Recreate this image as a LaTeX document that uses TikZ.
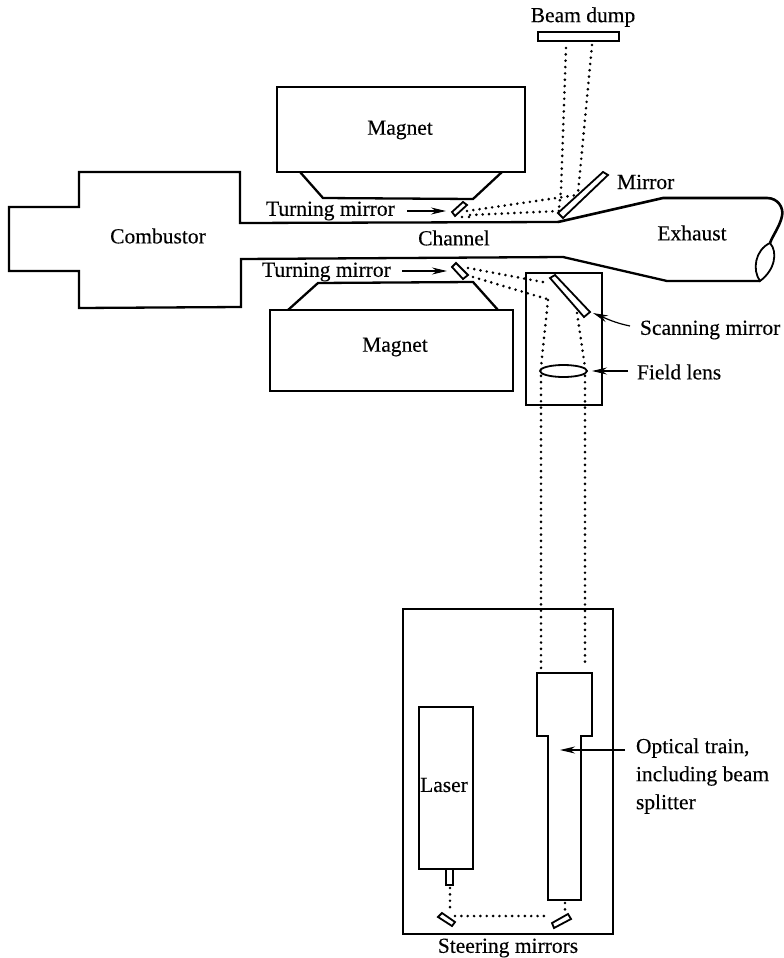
\documentclass[tikz,border=0pt]{standalone}
\usepackage{fontspec}
\setmainfont[FakeBold=0.25]{Liberation Serif}
\usetikzlibrary{arrows.meta}
\tikzset{
  solidline/.style={draw=black,line width=2.3pt,line join=miter},
  heavyline/.style={draw=black,line width=2.7pt,line join=miter},
  thinpart/.style={draw=black,line width=1.8pt,fill=white},
  beam/.style={draw=black,line width=2.9pt,line cap=round,dash pattern=on 0pt off 6.35pt},
  pointer/.style={draw=black,line width=1.2pt,-{Stealth[length=15pt,width=7pt]}},
  label/.style={font=\fontsize{21.5}{28}\selectfont,text=black,inner sep=0pt,outer sep=0pt},
}
\begin{document}
\begin{tikzpicture}[x=1pt,y=-1pt]
\useasboundingbox (0,0) rectangle (784,958);
% labels
\node[label] (dumpL) at (583,17) {Beam dump};
\node[label] (mag1L) at (400,130) {Magnet};
\node[label] (mag2L) at (395,347) {Magnet};
\node[label] (combL) at (158,236) {Combustor};
\node[label] (chanL) at (454,238) {Channel};
\node[label] (exhL) at (692,233) {Exhaust};
\node[label,anchor=west] (mirL) at (617,182) {Mirror};
\node[label,anchor=west] (tm1L) at (266,211) {Turning mirror};
\node[label,anchor=west] (tm2L) at (262,272) {Turning mirror};
\node[label,anchor=west] (scanL) at (640,330) {Scanning mirror};
\node[label,anchor=west] (lensL) at (637,372) {Field lens};
\node[label,anchor=west,align=left] (optL) at (636,776) {Optical train,\\including beam\\splitter};
\node[label] (laserL) at (444,785) {Laser};
\node[label] (steerL) at (508,948) {Steering mirrors};
% combustor, channel, exhaust
\draw[solidline] (558,222) -- (240,223) -- (240,172) -- (79,172) -- (79,207) -- (9,207) -- (9,271) -- (79,271) -- (79,308) -- (241,307) -- (241,259) -- (563,257) -- (667,281) -- (760,281);
\draw[solidline,line width=2.6pt] (558,222) -- (663,198) -- (767,198) .. controls (778,198) and (784,208) .. (782,216) .. controls (780,226) and (773,235) .. (770,243);
\draw[solidline,line width=1.8pt] (770,243) .. controls (778,252) and (775,270) .. (760,281) .. controls (752,270) and (755,250) .. (770,243);
% magnets
\draw[solidline] (277,87) rectangle (525,172);
\draw[solidline] (300,172) -- (323,198) -- (473,199) -- (502,172);
\draw[solidline] (270,310) rectangle (513,391);
\draw[solidline] (288,310) -- (318,283) -- (473,282) -- (498,310);
% boxes
\draw[heavyline] (526,273) rectangle (602,405);
\draw[heavyline] (403,609) rectangle (613,934);
% beams
\coordinate (b1a) at (566,48); \coordinate (b1b) at (561,190); \coordinate (b1c) at (559,208);
\coordinate (b2a) at (592,45); \coordinate (b2b) at (578,193);
\coordinate (t1a) at (467,211); \coordinate (t1b) at (577,195);
\coordinate (t2a) at (470,215); \coordinate (t2b) at (559,211);
\coordinate (t3a) at (462,217); \coordinate (t3b) at (462,222);
\coordinate (t4a) at (469,217); \coordinate (t4b) at (469,222);
\coordinate (u1a) at (468,268); \coordinate (u1b) at (548,283);
\coordinate (u2a) at (473,277); \coordinate (u2b) at (547,299);
\coordinate (d1a) at (548,300); \coordinate (d1b) at (541,367); \coordinate (d1c) at (541,668);
\coordinate (d2a) at (577,313); \coordinate (d2b) at (585,367); \coordinate (d2c) at (585,668);
\coordinate (s1a) at (450,888); \coordinate (s1b) at (450,912);
\coordinate (s2a) at (455,916); \coordinate (s2b) at (550,916);
\coordinate (s3a) at (565,903); \coordinate (s3b) at (565,913);
\draw[beam] (b1a) -- (b1b) -- (b1c);
\draw[beam] (b2a) -- (b2b);
\draw[beam] (t1a) -- (t1b);
\draw[beam] (t2a) -- (t2b);
\draw[beam] (t3a) -- (t3b);
\draw[beam] (t4a) -- (t4b);
\draw[beam] (u1a) -- (u1b);
\draw[beam] (u2a) -- (u2b);
\draw[beam] (d1a) -- (d1b) -- (d1c);
\draw[beam] (d2a) -- (d2b) -- (d2c);
\draw[beam] (s1a) -- (s1b);
\draw[beam] (s2a) -- (s2b);
\draw[beam] (s3a) -- (s3b);
% optics
\draw[solidline] (538,32) rectangle (619,41);
\draw[thinpart] (558,213) -- (603,172) -- (608,175) -- (563,218) -- cycle;
\draw[thinpart] (452,212) -- (463,202) -- (467,205) -- (455,216) -- cycle;
\draw[thinpart] (452,267) -- (456,263) -- (468,275) -- (463,279) -- cycle;
\draw[thinpart] (550,278) -- (555,275) -- (590,312) -- (584,317) -- cycle;
\draw[thinpart] (563.5,371) ellipse (23.5 and 6);
% laser and train
\draw[solidline] (419,707) rectangle (473,869);
\draw[solidline] (446,869) -- (446,885) -- (453,885) -- (453,869);
\draw[solidline] (548,900) -- (548,736) -- (537,736) -- (537,673) -- (592,673) -- (592,736) -- (581,736) -- (581,900) -- cycle;
\draw[thinpart] (438,917) -- (442,913) -- (455,922) -- (452,926) -- cycle;
\draw[thinpart] (552,923) -- (568,914) -- (571,919) -- (554,928) -- cycle;
% pointers
\coordinate (p1a) at (407,211); \coordinate (p1b) at (446,211);
\coordinate (p2a) at (402,271); \coordinate (p2b) at (447,271);
\coordinate (p3a) at (630,326); \coordinate (p3b) at (593,313);
\coordinate (p4a) at (628,371); \coordinate (p4b) at (592,371);
\coordinate (p5a) at (625,750); \coordinate (p5b) at (560,750);
\draw[pointer] (p1a) -- (p1b);
\draw[pointer] (p2a) -- (p2b);
\draw[pointer] (p3a) .. controls (615,323) and (605,318) .. (p3b);
\draw[pointer] (p4a) -- (p4b);
\draw[pointer] (p5a) -- (p5b);
\end{tikzpicture}
\end{document}
